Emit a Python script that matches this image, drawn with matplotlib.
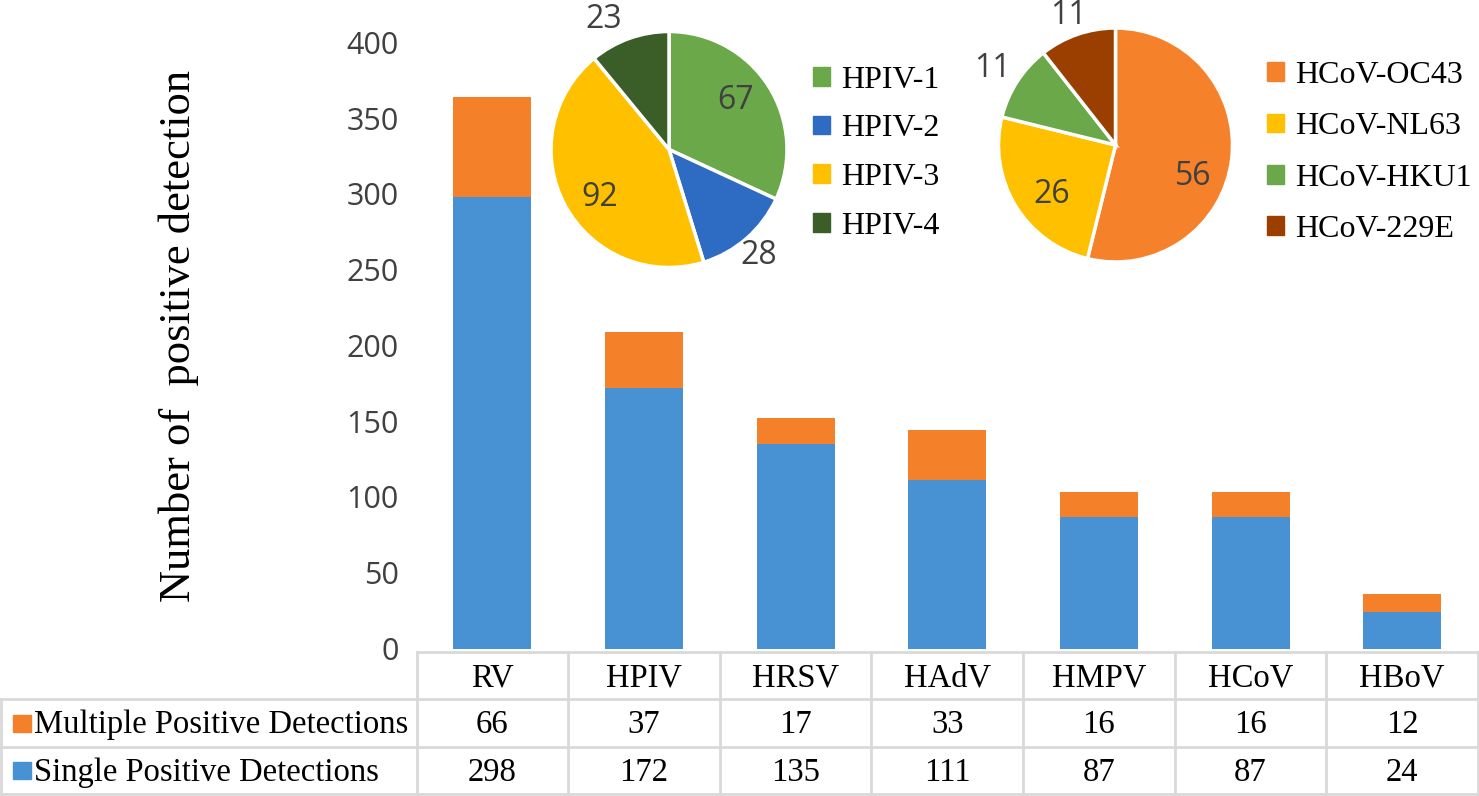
import matplotlib
matplotlib.use('Agg')
import matplotlib.pyplot as plt
from matplotlib.patches import Patch, Rectangle
import numpy as np

# ---------------------------
# data
# ---------------------------
viruses = ['RV', 'HPIV', 'HRSV', 'HAdV', 'HMPV', 'HCoV', 'HBoV']
multiple = [66, 37, 17, 33, 16, 16, 12]
single = [298, 172, 135, 111, 87, 87, 24]

hpiv_types = ['HPIV-1', 'HPIV-2', 'HPIV-3', 'HPIV-4']
hpiv_counts = [67, 28, 92, 23]

hcov_types = ['HCoV-OC43', 'HCoV-NL63', 'HCoV-HKU1', 'HCoV-229E']
hcov_counts = [56, 26, 11, 11]

yticks = [0, 50, 100, 150, 200, 250, 300, 350, 400]

# ---------------------------
# styles
# ---------------------------
c_single = '#4891D2'
c_multi = '#F5802A'
hpiv_colors = ['#6AA84A', '#2E6BC2', '#FFC000', '#3B5E28']
hcov_colors = ['#F5822A', '#FFC000', '#6AA84A', '#9A3F00']
grid_c = '#D9D9D9'
serif = 'Liberation Serif'
sans = 'Open Sans'
tsize = 23.5

W, H = 1479, 796
fig = plt.figure(figsize=(W / 100, H / 100), dpi=100)


def box(x0, y0, x1, y1):
    # pixel box (top-left origin) -> figure fraction
    return [x0 / W, 1 - y1 / H, (x1 - x0) / W, (y1 - y0) / H]


# ---------------------------
# stacked bars
# ---------------------------
ax_left, ax_right = 416.5, 1478
ax = fig.add_axes(box(ax_left, 42.5, ax_right, 648.5))
x = np.arange(len(viruses))
ax.bar(x, single, width=0.514, color=c_single)
ax.bar(x, multiple, width=0.514, bottom=single, color=c_multi)
ax.set_xlim(-0.5, len(viruses) - 0.5)
ax.set_ylim(0, 400)
ax.set_yticks(yticks)
ax.set_yticklabels([str(t) for t in yticks], fontsize=22, color='#404040', family=sans)
ax.tick_params(axis='y', length=0, pad=13)
ax.set_xticks([])
for s in ax.spines.values():
    s.set_visible(False)
ax.set_ylabel('Number of  positive detection', fontsize=32, family=serif)
ax.yaxis.set_label_coords(-0.205, 0.516)

# ---------------------------
# data table under the bars
# ---------------------------
col_w = (ax_right - ax_left) / len(viruses)
lab_w = ax_left / col_w
tb = fig.add_axes(box(0, 652, ax_right, 794))
tb.set_xlim(-0.5 - lab_w, len(viruses) - 0.5)
tb.set_ylim(3, 0)
tb.axis('off')
lw = 2
xl, xr = -0.5 - lab_w, len(viruses) - 0.5
tb.plot([-0.5, xr], [0, 0], color=grid_c, lw=lw, clip_on=False)
for yy in [1, 2, 3]:
    tb.plot([xl, xr], [yy, yy], color=grid_c, lw=lw, clip_on=False)
tb.plot([xl + 1 / col_w, xl + 1 / col_w], [1, 3], color=grid_c, lw=lw, clip_on=False)
for i in range(len(viruses) + 1):
    tb.plot([i - 0.5, i - 0.5], [0, 3], color=grid_c, lw=lw, clip_on=False)

off = 0.22  # baseline offset so caps sit centred in the row
for i, v in enumerate(viruses):
    tb.text(i, 0.5 + off, v, ha='center', va='baseline', fontsize=tsize, family=serif)
    tb.text(i, 1.5 + off, str(multiple[i]), ha='center', va='baseline', fontsize=tsize, family=serif)
    tb.text(i, 2.5 + off, str(single[i]), ha='center', va='baseline', fontsize=tsize, family=serif)

row_names = ['Multiple Positive Detections', 'Single Positive Detections']
row_cols = [c_multi, c_single]
key = 18 / col_w
for r, (name, c) in enumerate(zip(row_names, row_cols)):
    yc = 1.5 + r
    tb.add_patch(Rectangle((xl + 13 / col_w, yc - 0.17), key, 0.36, color=c, clip_on=False))
    tb.text(xl + 34 / col_w, yc + off, name, ha='left', va='baseline', fontsize=tsize, family=serif)


# ---------------------------
# pies
# ---------------------------
def draw_pie(cx, cy, r, counts, colors, radii, nudges):
    pa = fig.add_axes(box(cx - r, cy - r, cx + r, cy + r))
    wedges, _ = pa.pie(counts, colors=colors, startangle=90, counterclock=False,
                       wedgeprops=dict(edgecolor='white', linewidth=2.5))
    pa.set_xlim(-1, 1)
    pa.set_ylim(-1, 1)
    for w, n, rad, nd in zip(wedges, counts, radii, nudges):
        ang = np.deg2rad((w.theta1 + w.theta2) / 2 + nd)
        pa.text(rad * np.cos(ang), rad * np.sin(ang), str(n), ha='center', va='center',
                fontsize=23, color='#404040', family=sans)
    return wedges


w1 = draw_pie(669, 149.5, 118, hpiv_counts, hpiv_colors,
              [0.70, 1.18, 0.71, 1.23], [4, -1, 6.5, 7])
w2 = draw_pie(1115.5, 145, 117, hcov_counts, hcov_colors,
              [0.72, 0.69, 1.24, 1.18], [-15, 7, 1, 1])

leg_kw = dict(frameon=False, loc='upper left', borderpad=0, borderaxespad=0,
              handlelength=0.53, handleheight=0.53, handletextpad=0.34,
              prop={'family': serif, 'size': 23})
fig.legend([Patch(color=c) for c in hpiv_colors], hpiv_types, labelspacing=0.62,
           bbox_to_anchor=(813 / W, 1 - 65.5 / H), **leg_kw)
fig.legend([Patch(color=c) for c in hcov_colors], hcov_types, labelspacing=0.70,
           bbox_to_anchor=(1267 / W, 1 - 61 / H), **leg_kw)

fig.savefig('out.png', dpi=100)
